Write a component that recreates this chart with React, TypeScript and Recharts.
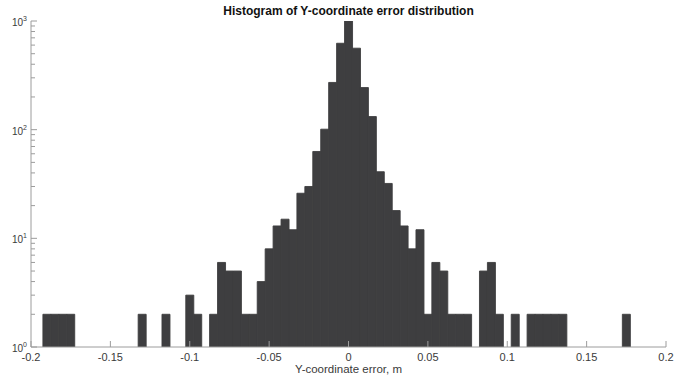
import React from "react";
import { ComposedChart, Bar, XAxis, YAxis } from "recharts";

// histogram bins (left edge of first bin, bin width) and counts per bin
const binStart = -0.1925;
const binWidth = 0.005;
const binCounts = [
  2, 2, 2, 2, 0, 0, 0, 0, 0, 0, 0, 0, 2, 0, 0, 2, 0, 0, 3, 2, 0, 2, 6, 5, 5, 2, 2,
  4, 8, 13, 15, 12, 26, 30, 63, 101, 272, 624, 1050, 562, 244, 132, 41, 32, 18, 13, 8, 12,
  2, 6, 5, 2, 2, 2, 0, 5, 6, 2, 0, 2, 0, 2, 2, 2, 2, 2, 0, 0, 0, 0, 0, 0, 0, 2,
];

const xTicks = [-0.2, -0.15, -0.1, -0.05, 0, 0.05, 0.1, 0.15, 0.2];
const xTickLabels = ["-0.2", "-0.15", "-0.1", "-0.05", "0", "0.05", "0.1", "0.15", "0.2"];
const yTicks = [
  1, 2, 3, 4, 5, 6, 7, 8, 9,
  10, 20, 30, 40, 50, 60, 70, 80, 90,
  100, 200, 300, 400, 500, 600, 700, 800, 900,
  1000,
];

const data = binCounts.map((c, i) => ({
  x: binStart + (i + 0.5) * binWidth,
  count: c > 0 ? c : null,
}));

const axisColor = "#9c9c9c";
const textColor = "#3a3a3a";
const barColor = "#3e3e40";
const font = "'Liberation Sans', Arial, sans-serif";

const isMajor = (v: number) => Math.abs(Math.log10(v) - Math.round(Math.log10(v))) < 1e-9;

const BottomTick = (props: any) => {
  const { x, y, payload, index } = props;
  return (
    <g>
      <line x1={x} x2={x} y1={y} y2={y - 6} stroke={axisColor} />
      <text x={x} y={y + 13.5} textAnchor="middle" fontSize={11} fill={textColor} fontFamily={font}>
        {xTickLabels[index] ?? String(payload.value)}
      </text>
    </g>
  );
};

const TopTick = (props: any) => {
  const { x, y } = props;
  return <line x1={x} x2={x} y1={y} y2={y + 6} stroke={axisColor} />;
};

const LeftTick = (props: any) => {
  const { x, y, payload } = props;
  const v = payload.value;
  const major = isMajor(v);
  return (
    <g>
      <line x1={x} x2={x + (major ? 6 : 4)} y1={y} y2={y} stroke={axisColor} />
      {major && (
        <text x={x - 4} y={y + 5} textAnchor="end" fontSize={10} fill={textColor} fontFamily={font}>
          <tspan>10</tspan>
          <tspan dy={-5} fontSize={7}>
            {Math.round(Math.log10(v))}
          </tspan>
        </text>
      )}
    </g>
  );
};

const RightTick = (props: any) => {
  const { x, y, payload } = props;
  const major = isMajor(payload.value);
  return <line x1={x} x2={x - (major ? 6 : 4)} y1={y} y2={y} stroke={axisColor} />;
};

export default function App() {
  return (
    <div style={{ position: "absolute", left: 0, top: 0, width: 686, height: 376, background: "#fff" }}>
      <ComposedChart
        width={686}
        height={376}
        data={data}
        margin={{ top: 21, right: 20, bottom: 0, left: 0 }}
        barCategoryGap={0}
        barGap={0}
      >
        <XAxis
          xAxisId="b"
          dataKey="x"
          type="number"
          domain={[-0.2, 0.2]}
          allowDataOverflow
          ticks={xTicks}
          interval={0}
          height={29}
          tickSize={0}
          tickMargin={0}
          tickLine={false}
          axisLine={{ stroke: axisColor }}
          tick={BottomTick}
        />
        <XAxis
          xAxisId="t"
          orientation="top"
          dataKey="x"
          type="number"
          domain={[-0.2, 0.2]}
          allowDataOverflow
          ticks={xTicks}
          interval={0}
          height={0}
          tickSize={0}
          tickMargin={0}
          tickLine={false}
          axisLine={{ stroke: axisColor }}
          tick={TopTick}
        />
        <YAxis
          yAxisId="l"
          scale="log"
          type="number"
          domain={[1, 1000]}
          allowDataOverflow
          ticks={yTicks}
          interval={0}
          width={31}
          tickSize={0}
          tickMargin={0}
          tickLine={false}
          axisLine={{ stroke: axisColor }}
          tick={LeftTick}
        />
        <YAxis
          yAxisId="r"
          orientation="right"
          scale="log"
          type="number"
          domain={[1, 1000]}
          allowDataOverflow
          ticks={yTicks}
          interval={0}
          width={0}
          tickSize={0}
          tickMargin={0}
          tickLine={false}
          axisLine={{ stroke: axisColor }}
          tick={RightTick}
        />
        <Bar
          xAxisId="b"
          yAxisId="l"
          dataKey="count"
          fill={barColor}
          stroke={barColor}
          strokeWidth={0.9}
          isAnimationActive={false}
        />
        <text
          x={348.5}
          y={15}
          textAnchor="middle"
          fontSize={12}
          fontWeight="bold"
          fill="#111"
          fontFamily={font}
        >
          Histogram of Y-coordinate error distribution
        </text>
        <text x={348.5} y={373.3} textAnchor="middle" fontSize={11.5} fill={textColor} fontFamily={font}>
          Y-coordinate error, m
        </text>
      </ComposedChart>
    </div>
  );
}
